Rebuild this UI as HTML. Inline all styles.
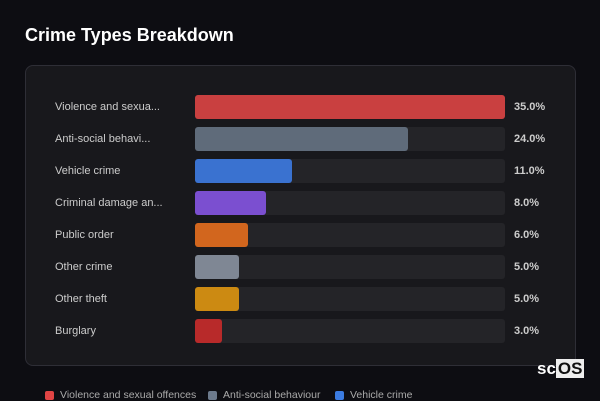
<!DOCTYPE html>
<html><head><meta charset="utf-8"><style>
body{margin:0;width:600px;height:400px;background:#0d0d12;font-family:"Liberation Sans",sans-serif;overflow:hidden;position:relative;color:#ddd}
.t{position:absolute;left:25px;top:25px;font-size:18px;font-weight:bold;color:#fff}
.card{position:absolute;left:25px;top:65px;width:549px;height:299px;border:1px solid #2e2e36;border-radius:8px;background:#18181c}
.row{position:absolute;left:0;height:24px;width:600px}
.lab{position:absolute;left:55px;top:6px;font-size:11px;color:#ccc}
.trk{position:absolute;left:195px;top:0;width:310px;height:24px;background:#242428;border-radius:3px}
.bar{position:absolute;left:0;top:0;height:24px;border-radius:3px}
.v{position:absolute;left:514px;top:6px;font-size:11px;font-weight:bold;color:#ccc}
.lg{position:absolute;top:389px;font-size:10.5px;color:#aaa;display:flex;align-items:center}
.lg i{display:inline-block;width:9px;height:9px;border-radius:2px;margin-right:6px}
.logo{position:absolute;left:537px;top:359px;font-size:17px;font-weight:bold;color:#fff;line-height:19px}
.logo span{background:#eee;color:#111;padding:0 2px}
</style></head><body>
<div class="t">Crime Types Breakdown</div>
<div class="card"></div>
<div class="row" style="top:95px"><div class="lab">Violence and sexua...</div><div class="trk"><div class="bar" style="width:310px;background:#c94040"></div></div><div class="v">35.0%</div></div>
<div class="row" style="top:127px"><div class="lab">Anti-social behavi...</div><div class="trk"><div class="bar" style="width:213px;background:#5f6b7a"></div></div><div class="v">24.0%</div></div>
<div class="row" style="top:159px"><div class="lab">Vehicle crime</div><div class="trk"><div class="bar" style="width:97px;background:#3a72d0"></div></div><div class="v">11.0%</div></div>
<div class="row" style="top:191px"><div class="lab">Criminal damage an...</div><div class="trk"><div class="bar" style="width:71px;background:#7b4fd0"></div></div><div class="v">8.0%</div></div>
<div class="row" style="top:223px"><div class="lab">Public order</div><div class="trk"><div class="bar" style="width:53px;background:#d2661e"></div></div><div class="v">6.0%</div></div>
<div class="row" style="top:255px"><div class="lab">Other crime</div><div class="trk"><div class="bar" style="width:44px;background:#7f8794"></div></div><div class="v">5.0%</div></div>
<div class="row" style="top:287px"><div class="lab">Other theft</div><div class="trk"><div class="bar" style="width:44px;background:#cc8a12"></div></div><div class="v">5.0%</div></div>
<div class="row" style="top:319px"><div class="lab">Burglary</div><div class="trk"><div class="bar" style="width:27px;background:#b82a2a"></div></div><div class="v">3.0%</div></div>
<div class="lg" style="left:45px"><i style="background:#e04444"></i>Violence and sexual offences</div>
<div class="lg" style="left:208px"><i style="background:#6c7a8c"></i>Anti-social behaviour</div>
<div class="lg" style="left:335px"><i style="background:#3b7be0"></i>Vehicle crime</div>
<div class="logo">sc<span>OS</span></div>
</body></html>
